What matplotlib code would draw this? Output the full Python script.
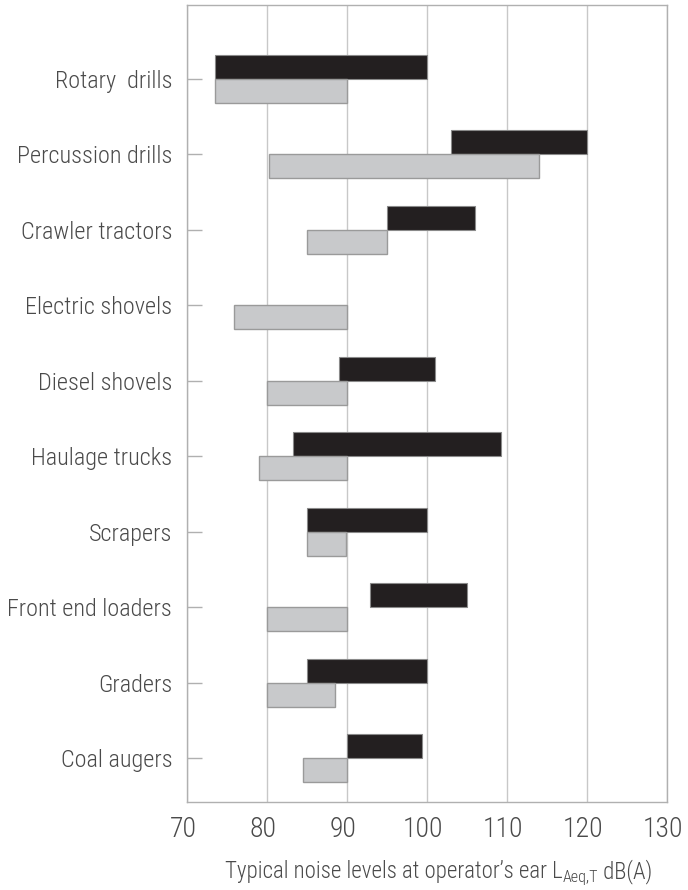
import numpy as np
import matplotlib
matplotlib.use("Agg")
import matplotlib.pyplot as plt
from matplotlib.transforms import ScaledTranslation

plt.rcParams['font.family'] = ['Roboto Condensed', 'Roboto', 'DejaVu Sans']
plt.rcParams['font.weight'] = 'light'

categories = ["Rotary  drills", "Percussion drills", "Crawler tractors", "Electric shovels",
              "Diesel shovels", "Haulage trucks", "Scrapers", "Front end loaders",
              "Graders", "Coal augers"]
black_lo = [73.5, 103.0, 95.0, np.nan, 89.0, 83.2, 85.0, 92.8, 85.0, 90.0]
black_hi = [100.0, 120.0, 106.0, np.nan, 101.0, 109.2, 100.0, 105.0, 100.0, 99.3]
grey_lo = [73.5, 80.2, 85.0, 75.8, 80.0, 79.0, 85.0, 80.0, 80.0, 84.4]
grey_hi = [90.0, 114.0, 95.0, 90.0, 90.0, 90.0, 89.8, 90.0, 88.4, 90.0]
xticks = [70, 80, 90, 100, 110, 120, 130]
xlabel_parts = ["Typical noise levels at operator\u2019s ear L", "Aeq,T", " dB(A)"]

W, H = 688, 890
fig = plt.figure(figsize=(W / 100, H / 100), dpi=100)
ax = fig.add_axes([0.2725, 0.0989, 0.6975, 0.8955])

y = np.arange(len(categories))
h = 0.318
bl = np.array(black_lo); bh = np.array(black_hi)
gl = np.array(grey_lo); gh = np.array(grey_hi)
mask = ~np.isnan(bl)
ax.barh(y[mask] - h / 2, bh[mask] - bl[mask], left=bl[mask], height=h,
        color='#231f20', edgecolor='#8a8a8a', linewidth=0.8, zorder=3)
ax.barh(y + h / 2, gh - gl, left=gl, height=h,
        color='#c8c9cb', edgecolor='#9a9a9a', linewidth=1.0, zorder=3)

ax.set_xlim(70, 130)
ax.set_ylim(9.58, -0.98)
ax.set_xticks(xticks)
ax.set_xticklabels([str(v) for v in xticks])
ax.set_yticks(y)
ax.set_yticklabels(categories)
ax.xaxis.grid(True, color='#c8c8c8', linewidth=1.0, zorder=0)
ax.set_axisbelow(True)

for s in ax.spines.values():
    s.set_color('#b0b0b0')
    s.set_linewidth(1.0)

ax.tick_params(axis='y', direction='in', length=11, width=1.0, color='#b0b0b0',
               pad=11, labelsize=17.5, labelcolor='#4a4a4a')
ax.tick_params(axis='x', length=0, pad=10, labelsize=20, labelcolor='#4a4a4a')
shift = ScaledTranslation(-4 / 100, 0, fig.dpi_scale_trans)
for lab in ax.get_xticklabels():
    lab.set_transform(lab.get_transform() + shift)

# x-axis label built from pieces (main text, subscript, unit)
tc = '#4a4a4a'
base_y = 1 - 878 / H
sizes = [16.5, 11.5, 16.5]
offs = [0, -4, 0]
texts = [fig.text(0, base_y + o / H, s, fontsize=fs, color=tc, ha='left', va='baseline')
         for s, fs, o in zip(xlabel_parts, sizes, offs)]
fig.canvas.draw()
r = fig.canvas.get_renderer()
widths = [t.get_window_extent(r).width for t in texts]
total = sum(widths)
x = 439 - total / 2
for t, w in zip(texts, widths):
    t.set_x(x / W)
    x += w

fig.savefig("out.png", dpi=100)
